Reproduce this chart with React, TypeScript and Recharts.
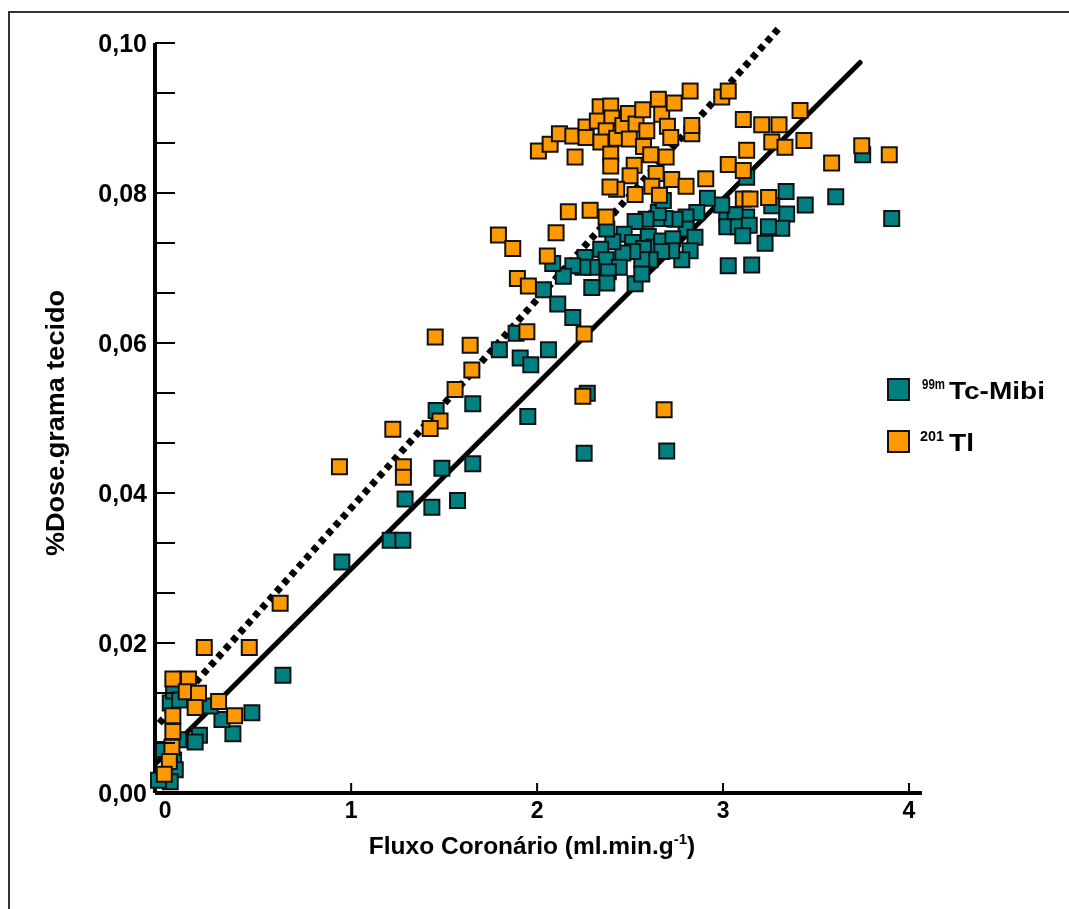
import { ScatterChart, Scatter, XAxis, YAxis, ReferenceLine } from "recharts"

// [fluxo, %dose]
const mibi: [number, number][] = [
  [3.751, 0.0851], [3.907, 0.0766], [3.606, 0.0795], [3.442, 0.0784], [3.339, 0.0802],
  [3.342, 0.0772], [3.316, 0.0753], [3.244, 0.0755], [3.226, 0.0733], [3.154, 0.0704],
  [3.028, 0.0703], [3.127, 0.0768], [3.020, 0.0771], [3.065, 0.0771], [3.020, 0.0755],
  [3.082, 0.0755], [3.141, 0.0757], [3.106, 0.0743], [2.993, 0.0784], [2.916, 0.0793],
  [2.859, 0.0774], [2.801, 0.0768], [2.801, 0.0752], [2.849, 0.0741], [2.823, 0.0723],
  [2.778, 0.0711], [3.262, 0.0783], [3.127, 0.0821], [2.742, 0.0765], [2.688, 0.0766],
  [2.644, 0.0766], [2.652, 0.0774], [2.679, 0.0790], [2.586, 0.0765], [2.527, 0.0762],
  [2.468, 0.0745], [2.514, 0.0734], [2.598, 0.0742], [2.625, 0.0728], [2.572, 0.0726],
  [2.670, 0.0736], [2.730, 0.0739], [2.724, 0.0723], [2.670, 0.0722], [2.608, 0.0711],
  [2.563, 0.0711], [2.514, 0.0722], [2.461, 0.0720], [2.407, 0.0735], [2.375, 0.0752],
  [2.342, 0.0725], [2.371, 0.0711], [2.442, 0.0701], [2.383, 0.0695], [2.375, 0.0680],
  [2.294, 0.0674], [2.258, 0.0714], [2.294, 0.0701], [2.246, 0.0701], [2.192, 0.0703],
  [2.141, 0.0689], [2.084, 0.0706], [2.034, 0.0671], [2.111, 0.0652], [2.192, 0.0634],
  [2.527, 0.0679], [2.563, 0.0692], [1.887, 0.0613], [1.797, 0.0591], [1.909, 0.0580],
  [1.966, 0.0571], [2.061, 0.0591], [1.654, 0.0519], [1.457, 0.0510], [1.950, 0.0502],
  [2.270, 0.0533], [2.253, 0.0453], [2.697, 0.0456], [1.488, 0.0433], [1.654, 0.0439],
  [1.290, 0.0392], [1.434, 0.0381], [1.572, 0.0390], [1.210, 0.0337], [1.278, 0.0337],
  [0.950, 0.0308], [0.633, 0.0157], [0.466, 0.0107], [0.364, 0.0079], [0.305, 0.0098],
  [0.242, 0.0116], [0.184, 0.0077], [0.161, 0.0068], [0.027, 0.0120], [0.045, 0.0136],
  [0.077, 0.0124], [0.072, 0.0071], [-0.009, 0.0058], [0.045, 0.0044], [0.054, 0.0031],
  [0.027, 0.0015], [-0.036, 0.0017],
]

const talio: [number, number][] = [
  [2.007, 0.0856], [2.070, 0.0865], [2.120, 0.0879], [2.192, 0.0876], [2.204, 0.0848],
  [2.263, 0.0888], [2.263, 0.0874], [2.339, 0.0915], [2.396, 0.0916], [2.324, 0.0896],
  [2.402, 0.0900], [2.371, 0.0883], [2.343, 0.0868], [2.428, 0.0873], [2.461, 0.0890],
  [2.491, 0.0906], [2.532, 0.0892], [2.496, 0.0872], [2.568, 0.0911], [2.590, 0.0883],
  [2.652, 0.0925], [2.670, 0.0905], [2.737, 0.0920], [2.823, 0.0936], [2.701, 0.0889],
  [2.719, 0.0874], [2.572, 0.0862], [2.611, 0.0851], [2.694, 0.0848], [2.396, 0.0852],
  [2.396, 0.0836], [2.522, 0.0837], [2.500, 0.0823], [2.640, 0.0826], [2.724, 0.0818],
  [2.801, 0.0809], [2.617, 0.0809], [2.658, 0.0797], [2.527, 0.0798], [2.428, 0.0805],
  [2.392, 0.0808], [2.907, 0.0819], [2.832, 0.0879], [2.832, 0.0890], [2.993, 0.0928],
  [3.028, 0.0936], [3.109, 0.0898], [3.127, 0.0857], [3.028, 0.0838], [3.109, 0.0830],
  [3.109, 0.0792], [2.168, 0.0775], [2.285, 0.0777], [2.371, 0.0768], [1.792, 0.0744],
  [2.102, 0.0747], [3.414, 0.0910], [3.208, 0.0891], [3.301, 0.0891], [3.262, 0.0868],
  [3.333, 0.0861], [3.435, 0.0870], [3.746, 0.0863], [3.894, 0.0851], [3.584, 0.0840],
  [3.245, 0.0794], [3.145, 0.0792], [1.452, 0.0608], [1.640, 0.0597], [1.649, 0.0564],
  [1.559, 0.0538], [1.478, 0.0496], [1.425, 0.0486], [1.224, 0.0485], [0.937, 0.0435],
  [1.281, 0.0435], [1.281, 0.0421], [1.945, 0.0615], [2.253, 0.0612], [2.246, 0.0529],
  [2.683, 0.0511], [1.869, 0.0726], [2.055, 0.0716], [1.894, 0.0686], [1.953, 0.0676],
  [0.618, 0.0253], [0.210, 0.0194], [0.452, 0.0194], [0.041, 0.0152], [0.125, 0.0152],
  [0.113, 0.0135], [0.179, 0.0133], [0.161, 0.0114], [0.287, 0.0122], [0.373, 0.0103],
  [0.041, 0.0103], [0.041, 0.0082], [0.036, 0.0061], [0.022, 0.0042], [-0.005, 0.0025],
]

// regression line end points
const mibiFit: [number, number][] = [[-0.048, 0.0040], [3.737, 0.0974]]
const talioFit: [number, number][] = [[-0.032, 0.0093], [3.312, 0.1023]]

const xTicks = [0, 1, 2, 3, 4]
const yLabels = [0, 0.02, 0.04, 0.06, 0.08, 0.1]
const yTicks: number[] = []
yLabels.forEach((v, i) => {
  yTicks.push(v)
  if (i < yLabels.length - 1) {
    yTicks.push(v + 0.02 / 3, v + 0.04 / 3)
  }
})

const TEAL = "#008080"
const ORANGE = "#ff9900"
const FONT = "'Liberation Sans', Arial, sans-serif"

const toPts = (arr: [number, number][]) => arr.map(([x, y]) => ({ x, y }))

const box = (color: string) => (props: any) => (
  <rect x={props.cx - 7.5} y={props.cy - 7.5} width={15} height={15} fill={color} stroke="#111" strokeWidth={2} />
)

function YTick({ x, y, payload }: any) {
  const v = payload.value
  const major = yLabels.some((m) => Math.abs(m - v) < 1e-6)
  return (
    <g>
      <line x1={x} x2={x + 20} y1={y} y2={y} stroke="#000" strokeWidth={2} />
      {major && (
        <text x={x - 8} y={y} dy={8.5} textAnchor="end" fontSize={25} fontWeight="bold" fontFamily={FONT} fill="#000">
          {v.toFixed(2).replace(".", ",")}
        </text>
      )}
    </g>
  )
}

function XTick({ x, y, payload }: any) {
  return (
    <g>
      {payload.value !== 0 && <line x1={x} x2={x} y1={y} y2={y - 10} stroke="#000" strokeWidth={2} />}
      <text x={x} y={y + 25} textAnchor="middle" fontSize={23} fontWeight="bold" fontFamily={FONT} fill="#000">
        {payload.value}
      </text>
    </g>
  )
}

export default function App() {
  return (
    <div style={{ position: "relative", width: 1053, height: 893, background: "#fff" }}>
      <div
        style={{
          position: "fixed", left: 8, top: 11, right: -20, bottom: -20,
          borderLeft: "2px solid #333", borderTop: "2px solid #333",
        }}
      />
      <ScatterChart width={1053} height={893} margin={{ top: 12, right: 139, bottom: 48, left: 87 }}>
        <XAxis
          type="number" dataKey="x" domain={[-0.055, 4.07]} ticks={xTicks}
          axisLine={{ stroke: "#000", strokeWidth: 4 }} tickLine={false} tickSize={0} tickMargin={0}
          tick={<XTick />} height={60} interval={0}
        />
        <YAxis
          type="number" dataKey="y" domain={[0, 0.10307]} ticks={yTicks}
          axisLine={false} tickLine={false} tickSize={0} tickMargin={0}
          tick={<YTick />} width={60} interval={0}
        />
        <ReferenceLine segment={[{ x: -0.055, y: 0 }, { x: -0.055, y: 0.1 }]} stroke="#000" strokeWidth={4} />
        <Scatter
          data={toPts(talioFit)} shape={() => <g />} isAnimationActive={false}
          line={{ stroke: "#000", strokeWidth: 7, strokeDasharray: "6 5" }}
        />
        <Scatter
          data={toPts(mibiFit)} shape={() => <g />} isAnimationActive={false}
          line={{ stroke: "#000", strokeWidth: 5, strokeLinecap: "round" }}
        />
        <Scatter data={toPts(mibi)} shape={box(TEAL)} isAnimationActive={false} />
        <Scatter data={toPts(talio)} shape={box(ORANGE)} isAnimationActive={false} />
      </ScatterChart>
      <svg
        width={1053} height={893}
        style={{ position: "absolute", left: 0, top: 0, pointerEvents: "none" }}
        fontFamily={FONT} fontWeight="bold" fill="#000"
      >
        <text
          transform="translate(56,415) rotate(-90)" textAnchor="middle" fontSize={25}
          textLength={266} lengthAdjust="spacingAndGlyphs"
        >
          %Dose.grama tecido
        </text>
        <text x={524} y={846} textAnchor="middle" fontSize={24.5}>
          Fluxo Coronário (ml.min.g<tspan fontSize={15} dy={-10}>-1</tspan><tspan dy={10}>)</tspan>
        </text>
        <rect x={880} y={371} width={21} height={21} fill={TEAL} stroke="#111" strokeWidth={2} />
        <text x={914} y={381} fontSize={15} textLength={23} lengthAdjust="spacingAndGlyphs">99m</text>
        <text x={941} y={391} fontSize={24} textLength={96} lengthAdjust="spacingAndGlyphs">Tc-Mibi</text>
        <rect x={880} y={423} width={21} height={21} fill={ORANGE} stroke="#111" strokeWidth={2} />
        <text x={912} y={433} fontSize={15} textLength={24} lengthAdjust="spacingAndGlyphs">201</text>
        <text x={941} y={443} fontSize={24} textLength={25} lengthAdjust="spacingAndGlyphs">Tl</text>
      </svg>
    </div>
  )
}
